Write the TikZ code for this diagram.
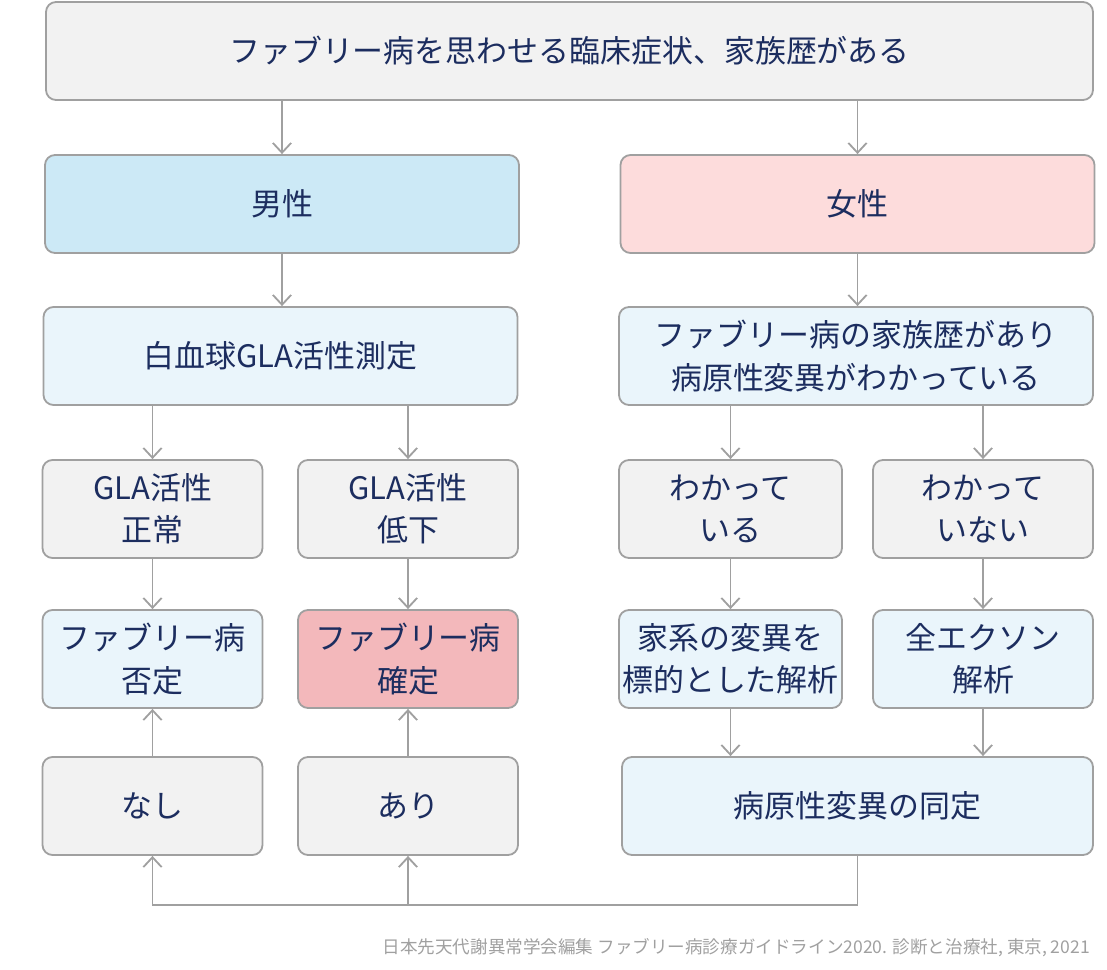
\documentclass[tikz,border=0pt]{standalone}
\usepackage{fontspec}
\setmainfont{Noto Sans CJK JP}
\usetikzlibrary{arrows.meta, positioning}
\definecolor{textcol}{RGB}{28,45,95}
\definecolor{framecol}{RGB}{160,160,160}
\definecolor{malecol}{RGB}{204,233,246}
\definecolor{femalecol}{RGB}{253,220,220}
\definecolor{palecol}{RGB}{234,245,251}
\definecolor{greycol}{RGB}{242,242,242}
\definecolor{surecol}{RGB}{243,184,187}

\begin{document}
\begin{tikzpicture}[x=0.025cm, y=-0.025cm, every node/.style={font=\fontsize{22}{30}\selectfont, text=textcol, align=center},
    box/.style={draw=framecol, line width=1.3pt, rounded corners=0.25cm, inner sep=0pt, minimum height=98*0.025cm},
    wide/.style={box, minimum width=474*0.025cm}, small/.style={box, minimum width=220*0.025cm},
    flow/.style={draw=framecol, line width=1.3pt, -{Straight Barb[length=7pt, width=13pt]}}]
    \useasboundingbox (0,0) rectangle (1107,969);

    \node[box, fill=greycol, minimum width=1047*0.025cm] (sign) at (569.5,51) {ファブリー病を思わせる臨床症状、家族歴がある};

    \node[wide, fill=malecol] (male) at (282,204) {男性};
    \node[wide, fill=femalecol] (female) at (857.5,204) {女性};
    \node[wide, fill=palecol] (assay) at (280.5,356) {白血球GLA活性測定};
    \node[wide, fill=palecol] (history) at (856,356) {ファブリー病の家族歴があり\\病原性変異がわかっている};

    \node[small, fill=greycol] (normal) at (152.5,509) {GLA活性\\正常};
    \node[small, fill=greycol] (low) at (408,509) {GLA活性\\低下};
    \node[small, fill=greycol, minimum width=223*0.025cm] (known) at (730.5,509) {わかって\\いる};
    \node[small, fill=greycol] (unknown) at (983,509) {わかって\\いない};

    \node[small, fill=palecol] (neg) at (152.5,659) {ファブリー病\\否定};
    \node[small, fill=surecol] (pos) at (408,659) {ファブリー病\\確定};
    \node[small, fill=palecol, minimum width=223*0.025cm] (target) at (730.5,659) {家系の変異を\\標的とした解析};
    \node[small, fill=palecol] (exome) at (983,659) {全エクソン\\解析};

    \node[small, fill=greycol] (none) at (152.5,806) {なし};
    \node[small, fill=greycol] (found) at (408,806) {あり};
    \node[wide, fill=palecol, minimum width=471*0.025cm] (ident) at (857.5,806) {病原性変異の同定};

    \node[anchor=east, text=framecol, font=\fontsize{12.5}{15}\selectfont] (cite) at (1095,948)
      {日本先天代謝異常学会編集 ファブリー病診療ガイドライン2020. 診断と治療社, 東京, 2021};

    \draw[flow] (sign.south -| male) -- (male);
    \draw[flow] (sign.south -| female) -- (female);
    \draw[flow] (male) -- (male |- assay.north);
    \draw[flow] (female) -- (female |- history.north);
    \draw[flow] (assay.south -| normal) -- (normal);
    \draw[flow] (assay.south -| low) -- (low);
    \draw[flow] (history.south -| known) -- (known);
    \draw[flow] (history.south -| unknown) -- (unknown);
    \draw[flow] (normal) -- (neg);
    \draw[flow] (low) -- (pos);
    \draw[flow] (known) -- (target);
    \draw[flow] (unknown) -- (exome);
    \draw[flow] (none) -- (neg);
    \draw[flow] (found) -- (pos);
    \draw[flow] (target) -- (target |- ident.north);
    \draw[flow] (exome) -- (exome |- ident.north);

    \coordinate (turn) at (857.5,905);
    \draw[flow] (ident) -- (turn) -| (none);
    \draw[flow] (turn -| found) -- (found);
\end{tikzpicture}
\end{document}
